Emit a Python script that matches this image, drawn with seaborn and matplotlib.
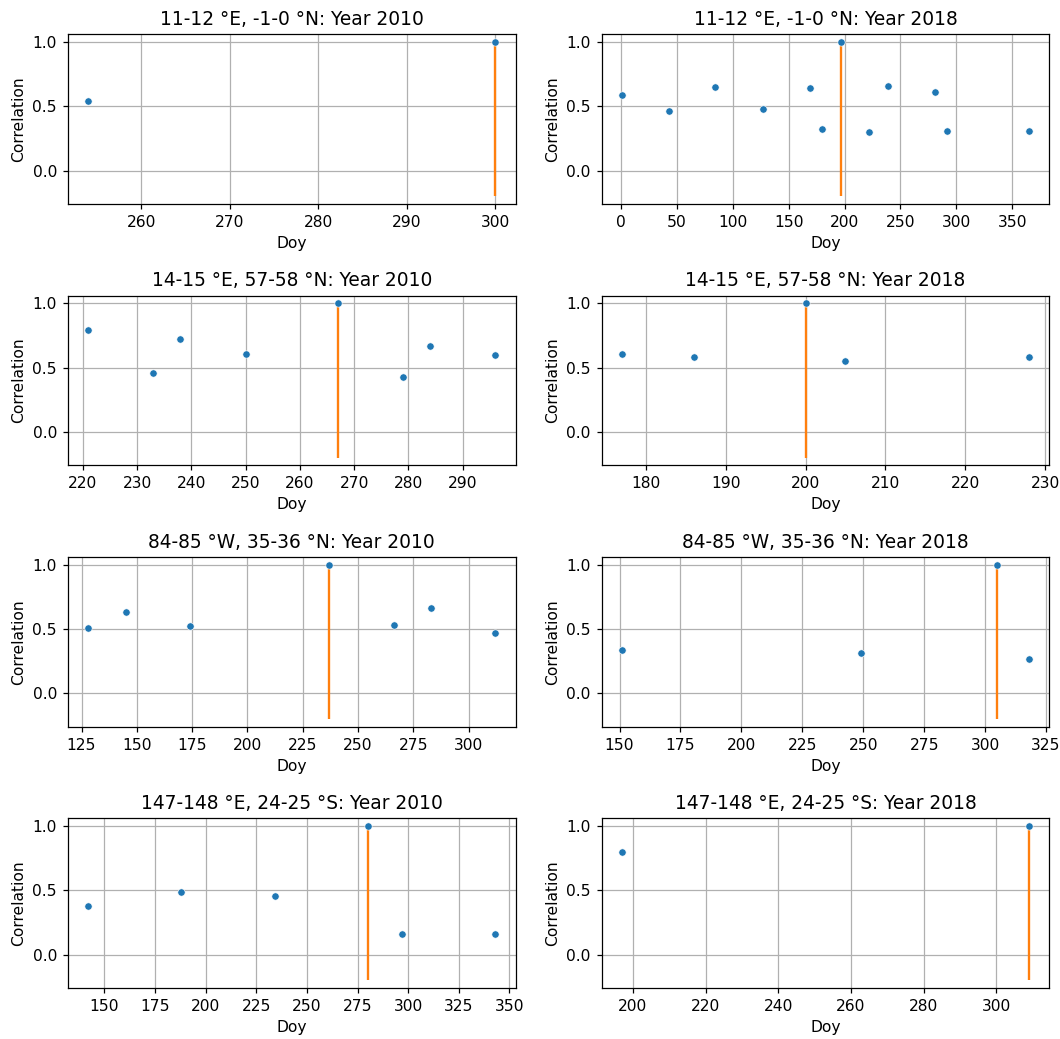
import matplotlib
matplotlib.use("Agg")
import matplotlib.pyplot as plt
import pandas as pd
import seaborn as sns

# Data
regions = ["11-12 °E, -1-0 °N", "14-15 °E, 57-58 °N", "84-85 °W, 35-36 °N", "147-148 °E, 24-25 °S"]
years = [2010, 2018]

doy_r1_2010 = [254, 300]
corr_r1_2010 = [0.54, 1.0]
doy_r1_2018 = [1, 43, 84, 127, 169, 180, 197, 222, 239, 281, 292, 365]
corr_r1_2018 = [0.59, 0.46, 0.65, 0.48, 0.64, 0.32, 1.0, 0.30, 0.66, 0.61, 0.31, 0.31]

doy_r2_2010 = [221, 233, 238, 250, 267, 279, 284, 296]
corr_r2_2010 = [0.79, 0.46, 0.72, 0.61, 1.0, 0.43, 0.67, 0.60]
doy_r2_2018 = [177, 186, 200, 205, 228]
corr_r2_2018 = [0.61, 0.58, 1.0, 0.55, 0.58]

doy_r3_2010 = [128, 145, 174, 237, 266, 283, 312]
corr_r3_2010 = [0.51, 0.63, 0.52, 1.0, 0.53, 0.66, 0.47]
doy_r3_2018 = [151, 249, 305, 318]
corr_r3_2018 = [0.34, 0.31, 1.0, 0.27]

doy_r4_2010 = [142, 188, 234, 280, 297, 343]
corr_r4_2010 = [0.38, 0.49, 0.46, 1.0, 0.16, 0.16]
doy_r4_2018 = [197, 309]
corr_r4_2018 = [0.80, 1.0]

panels = [
    (doy_r1_2010, corr_r1_2010), (doy_r1_2018, corr_r1_2018),
    (doy_r2_2010, corr_r2_2010), (doy_r2_2018, corr_r2_2018),
    (doy_r3_2010, corr_r3_2010), (doy_r3_2018, corr_r3_2018),
    (doy_r4_2010, corr_r4_2010), (doy_r4_2018, corr_r4_2018),
]

line_bottom = -0.2

fig, axes = plt.subplots(4, 2, figsize=(1060 / 112, 1039 / 112), dpi=112)

for i, (doy, corr) in enumerate(panels):
    ax = axes[i // 2, i % 2]
    df = pd.DataFrame({"Doy": doy, "Correlation": corr})

    # mark the reference day (correlation 1) with a vertical line
    ref_day = df.loc[df["Correlation"].idxmax(), "Doy"]
    ax.vlines(ref_day, line_bottom, 1.0, color="C1", linewidth=1.5, zorder=2)

    sns.scatterplot(data=df, x="Doy", y="Correlation", ax=ax, color="C0", s=22, zorder=3)

    ax.grid(True)
    ax.set_title(f"{regions[i // 2]}: Year {years[i % 2]}")

fig.subplots_adjust(left=0.064, right=0.99, top=0.967, bottom=0.049, wspace=0.192, hspace=0.54)
fig.savefig("out.png")
